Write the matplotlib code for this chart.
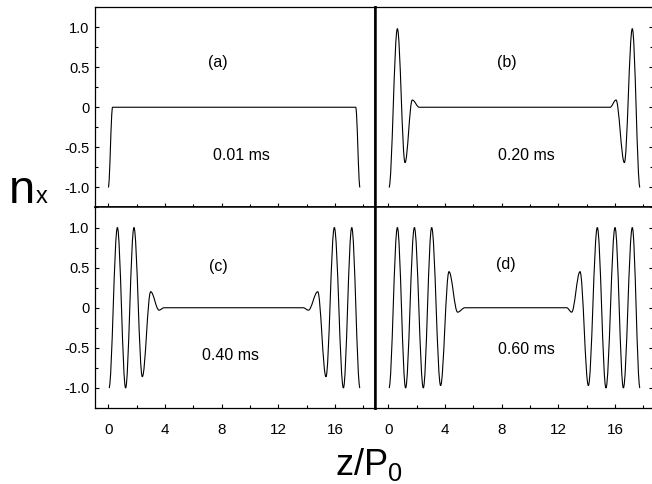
import matplotlib
matplotlib.use("Agg")
import matplotlib.pyplot as plt
from matplotlib.path import Path
from matplotlib.patches import PathPatch
from matplotlib.ticker import MultipleLocator

plt.rcParams['font.family'] = ['Liberation Sans', 'DejaVu Sans']

# turning points of n_x along the chain (z/P0) for each snapshot
z_a = [0.0, 0.30, 17.46, 17.76]
nx_a = [-1.0, 0.0, 0.0, -1.0]

z_b = [0.05, 0.64, 1.18, 1.69, 2.19, 15.65, 16.07, 16.66, 17.22, 17.76]
nx_b = [-1.0, 0.98, -0.69, 0.09, 0.0, 0.0, 0.09, -0.69, 0.98, -1.0]

z_c = [0.05, 0.64, 1.22, 1.81, 2.40, 2.99, 3.58, 3.93,
       13.76, 14.12, 14.78, 15.36, 15.95, 16.59, 17.18, 17.76]
nx_c = [-1.0, 1.0, -1.0, 1.0, -0.86, 0.20, -0.03, 0.0,
        0.0, -0.03, 0.20, -0.86, 1.0, -1.0, 1.0, -1.0]

z_d = [0.05, 0.64, 1.22, 1.84, 2.47, 3.06, 3.69, 4.28, 4.89, 5.41,
       12.59, 12.94, 13.53, 14.12, 14.75, 15.36, 16.00, 16.59, 17.22, 17.76]
nx_d = [-1.0, 1.0, -1.0, 1.0, -1.0, 1.0, -0.97, 0.45, -0.055, 0.0,
        0.0, -0.055, 0.45, -0.97, 1.0, -1.0, 1.0, -1.0, 1.0, -1.0]

panel_tags = ["(a)", "(b)", "(c)", "(d)"]
panel_times = ["0.01 ms", "0.20 ms", "0.40 ms", "0.60 ms"]

x_ticks = [0, 4, 8, 12, 16]
y_ticks = [-1.0, -0.5, 0.0, 0.5, 1.0]
y_tick_labels = ["-1.0", "-0.5", "0", "0.5", "1.0"]

W, H = 652, 484


def smooth_path(z, nx, k=0.36):
    # cubic Bezier through the turning points, flat tangent at each one
    verts = [(z[0], nx[0])]
    codes = [Path.MOVETO]
    for i in range(len(z) - 1):
        dz = z[i + 1] - z[i]
        verts += [(z[i] + k * dz, nx[i]), (z[i + 1] - k * dz, nx[i + 1]), (z[i + 1], nx[i + 1])]
        codes += [Path.CURVE4] * 3
    return Path(verts, codes)


def box(x0, y0, x1, y1):
    # pixel edges -> figure fraction
    return [x0 / W, 1 - y1 / H, (x1 - x0) / W, (y1 - y0) / H]


fig = plt.figure(figsize=(W / 100, H / 100), dpi=100)
ax_a = fig.add_axes(box(95, 7, 375, 207.5))
ax_b = fig.add_axes(box(375, 7, 653, 207.5))
ax_c = fig.add_axes(box(95, 207.5, 375, 408))
ax_d = fig.add_axes(box(375, 207.5, 653, 408))

curves = [(z_a, nx_a), (z_b, nx_b), (z_c, nx_c), (z_d, nx_d)]
tag_xy = [(7.74, 0.56), (8.36, 0.56), (7.74, 0.52), (8.30, 0.54)]
time_xy = [(9.41, -0.60), (9.77, -0.60), (8.59, -0.59), (9.77, -0.525)]

for i, ax in enumerate([ax_a, ax_b, ax_c, ax_d]):
    z, nx = curves[i]
    ax.add_patch(PathPatch(smooth_path(z, nx), fill=False, edgecolor='black', lw=0.8))

    left_col = i in (0, 2)
    bottom_row = i in (2, 3)
    ax.set_xlim(-0.94, 18.82 if left_col else 18.68)
    ax.set_ylim(-1.25, 1.25)

    ax.set_xticks(x_ticks)
    ax.xaxis.set_minor_locator(MultipleLocator(2))
    ax.set_yticks(y_ticks)
    ax.set_yticklabels(y_tick_labels)
    ax.yaxis.set_minor_locator(MultipleLocator(0.25))

    ax.tick_params(axis='both', which='both', direction='in', width=0.8, color='black')
    ax.tick_params(axis='both', which='major', length=3.0)
    ax.tick_params(axis='both', which='minor', length=2.2)
    ax.tick_params(axis='x', which='both', top=False, bottom=True,
                   labelbottom=bottom_row, labelsize=11, pad=11)
    ax.tick_params(axis='y', which='both', left=left_col, right=not left_col,
                   labelleft=left_col, labelright=False, labelsize=10.5, pad=4)

    for side in ax.spines:
        ax.spines[side].set_linewidth(0.9)
    # shared inner edges drawn heavier
    ax.spines['right' if left_col else 'left'].set_linewidth(1.8)
    ax.spines['top' if bottom_row else 'bottom'].set_linewidth(1.1)

    ax.text(*tag_xy[i], panel_tags[i], fontsize=11.5, ha='center', va='center')
    ax.text(*time_xy[i], panel_times[i], fontsize=11.5, ha='center', va='center')

# axis titles
fig.text(9 / W, 1 - 203 / H, "n", fontsize=34, ha='left', va='baseline')
fig.text(36 / W, 1 - 203 / H, "x", fontsize=17, ha='left', va='baseline')
fig.text(369 / W, 1 - 475 / H, r"$\mathregular{z/P_0}$", fontsize=26, ha='center', va='baseline')

fig.savefig("out.png", dpi=100)
